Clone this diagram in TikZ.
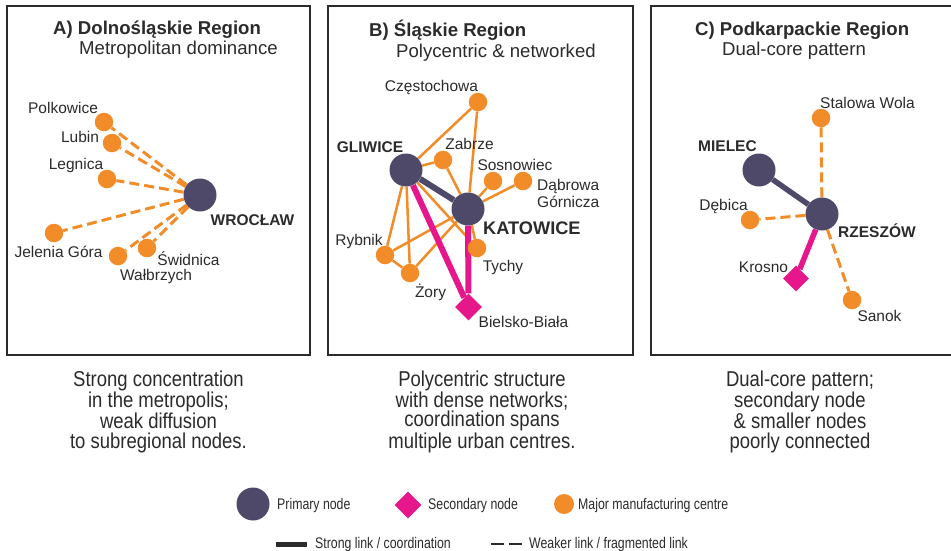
\documentclass[tikz,border=0pt]{standalone}
\usepackage{fontspec}
\setmainfont{Liberation Sans}
\newfontfamily\narrowfont[FakeStretch=0.86]{Liberation Sans}
\newfontfamily\legfont[FakeStretch=0.80]{Liberation Sans}
\usetikzlibrary{shapes.geometric}
\definecolor{prim}{HTML}{4E4968}
\definecolor{orng}{HTML}{F28C28}
\definecolor{mag}{HTML}{E6178B}
\definecolor{txt}{HTML}{2B2B2B}
\pgfdeclarelayer{bg}
\pgfsetlayers{bg,main}
\tikzset{
  primnode/.style={circle, fill=prim, minimum size=33pt, inner sep=0pt},
  mfg/.style={circle, fill=orng, minimum size=18.5pt, inner sep=0pt},
  secnode/.style={diamond, fill=mag, minimum width=27pt, minimum height=27pt, inner sep=0pt},
  weak/.style={draw=orng, line width=3pt, dash pattern=on 10pt off 5pt},
  net/.style={draw=orng, line width=2.5pt},
  strong/.style={draw=prim, line width=6pt},
  seclink/.style={draw=mag, line width=6pt},
  lbl/.style={font=\fontsize{15.5}{18}\selectfont, text=txt, inner sep=0pt, anchor=base},
  blbl/.style={font=\bfseries\fontsize{15.5}{18}\selectfont, text=txt, inner sep=0pt, anchor=base},
  ttl/.style={font=\bfseries\fontsize{18.6}{22}\selectfont, text=txt, inner sep=0pt, anchor=base west},
  subttl/.style={font=\fontsize{18.6}{22}\selectfont, text=txt, inner sep=0pt, anchor=base west},
  captxt/.style={font=\narrowfont\fontsize{21.5}{19.7}\selectfont, text=txt, align=center, inner sep=0pt, anchor=base},
  legtxt/.style={font=\legfont\fontsize{15.4}{18}\selectfont, text=txt, inner sep=0pt, anchor=west},
  panel/.style={draw=txt, line width=2.5pt}
}
\begin{document}
\begin{tikzpicture}[x=1pt,y=-1pt]
\useasboundingbox (0,0) rectangle (951,550);
\begin{pgfonlayer}{bg}
\fill[white] (0,0) rectangle (951,550);
\end{pgfonlayer}

% panels
\draw[panel] (7,6) rectangle (310,355);
\draw[panel] (328,6) rectangle (633,355);
\draw[panel] (651,6) rectangle (960,355);

% ---------- Panel A ----------
\node[ttl] (ta) at (53,34) {A) Dolnośląskie Region};
\node[subttl] (sa) at (79,54) {Metropolitan dominance};
\node[primnode] (wro) at (200,195) {};
\node[mfg] (pol) at (104,122) {};
\node[mfg] (lub) at (112,143) {};
\node[mfg] (leg) at (107,179) {};
\node[mfg] (jel) at (54,233) {};
\node[mfg] (wal) at (118,256) {};
\node[mfg] (swi) at (147,248) {};
\node[lbl] (lpol) at (63,113) {Polkowice};
\node[lbl] (llub) at (80,142) {Lubin};
\node[lbl] (lleg) at (76,169) {Legnica};
\node[lbl] (ljel) at (58.5,257) {Jelenia Góra};
\node[lbl] (lswi) at (188.5,265) {Świdnica};
\node[lbl] (lwal) at (156,280) {Wałbrzych};
\node[blbl] (lwro) at (252.5,225) {WROCŁAW};
\begin{pgfonlayer}{bg}
\draw[weak] (wro) -- (pol);
\draw[weak] (wro) -- (lub);
\draw[weak] (wro) -- (leg);
\draw[weak] (wro) -- (jel);
\draw[weak] (wro) -- (wal);
\draw[weak] (wro) -- (swi);
\end{pgfonlayer}

% ---------- Panel B ----------
\node[ttl] (tb) at (369,36) {B) Śląskie Region};
\node[subttl] (sb) at (396,57) {Polycentric \& networked};
\node[primnode] (gli) at (406,170) {};
\node[primnode] (kat) at (468,209) {};
\node[mfg] (cze) at (478,102) {};
\node[mfg] (zab) at (443,160) {};
\node[mfg] (sos) at (493,181) {};
\node[mfg] (dab) at (523,181) {};
\node[mfg] (tyc) at (477,248) {};
\node[mfg] (ryb) at (385,255) {};
\node[mfg] (zor) at (410,273) {};
\node[secnode] (bie) at (468.5,307) {};
\node[lbl] (lcze) at (431.5,91) {Częstochowa};
\node[blbl] (lgli) at (370,152) {GLIWICE};
\node[lbl] (lzab) at (469.5,149) {Zabrze};
\node[lbl] (lsos) at (515,170) {Sosnowiec};
\node[lbl, anchor=base west] (ldab1) at (537,190) {Dąbrowa};
\node[lbl, anchor=base west] (ldab2) at (537,207) {Górnicza};
\node[font=\bfseries\fontsize{18.2}{21}\selectfont, text=txt, inner sep=0pt, anchor=base west] (lkat) at (483,234) {KATOWICE};
\node[lbl] (lryb) at (359,245) {Rybnik};
\node[lbl] (ltyc) at (503,271) {Tychy};
\node[lbl] (lzor) at (430.5,297) {Żory};
\node[lbl] (lbie) at (523.5,327) {Bielsko-Biała};
\begin{pgfonlayer}{bg}
\draw[net] (gli) -- (cze);
\draw[net] (kat) -- (cze);
\draw[net] (gli) -- (zab);
\draw[net] (zab) -- (kat);
\draw[net] (kat) -- (sos);
\draw[net] (kat) -- (dab);
\draw[net] (gli) -- (ryb);
\draw[net] (gli) -- (zor);
\draw[net] (gli) -- (tyc);
\draw[net] (kat) -- (ryb);
\draw[net] (kat) -- (zor);
\draw[net] (ryb) -- (zor);
\draw[net] (kat) -- (tyc);
\draw[strong] (gli) -- (kat);
\draw[seclink] (gli) -- (bie);
\draw[seclink] (kat) -- (bie);
\end{pgfonlayer}

% ---------- Panel C ----------
\node[ttl] (tc) at (695,35) {C) Podkarpackie Region};
\node[subttl] (sc) at (722,55) {Dual-core pattern};
\node[primnode] (mie) at (759,170) {};
\node[primnode] (rze) at (822,214) {};
\node[mfg] (sta) at (821,118) {};
\node[mfg] (deb) at (750,220) {};
\node[mfg] (san) at (852,300) {};
\node[secnode, minimum width=26pt, minimum height=26pt] (kro) at (796,278.5) {};
\node[lbl, anchor=base west] (lsta) at (820,108) {Stalowa Wola};
\node[blbl, anchor=base west] (lmie) at (698,151) {MIELEC};
\node[lbl] (ldeb) at (723.5,210) {Dębica};
\node[blbl, anchor=base west] (lrze) at (838,237) {RZESZÓW};
\node[lbl] (lkro) at (763.5,272) {Krosno};
\node[lbl] (lsan) at (879.5,321) {Sanok};
\begin{pgfonlayer}{bg}
\draw[weak] (rze) -- (sta);
\draw[weak] (rze) -- (deb);
\draw[weak] (rze) -- (san);
\draw[strong, line width=5.5pt] (mie) -- (rze);
\draw[seclink, line width=5.5pt] (rze) -- (kro);
\end{pgfonlayer}

% ---------- Captions (base = last line) ----------
\node[captxt] (ca) at (158.5,448) {Strong concentration\\in the metropolis;\\weak diffusion\\to subregional nodes.};
\node[captxt] (cb) at (482,448) {Polycentric structure\\with dense networks;\\coordination spans\\multiple urban centres.};
\node[captxt] (cc) at (800,448) {Dual-core pattern;\\secondary node\\\& smaller nodes\\poorly connected};

% ---------- Legend ----------
\node[primnode] (lgp) at (253,504) {};
\node[legtxt] (lgpt) at (277,506) {Primary node};
\node[secnode] (lgs) at (408,505) {};
\node[legtxt] (lgst) at (428,506) {Secondary node};
\node[mfg, minimum size=20pt] (lgm) at (564,504) {};
\node[legtxt] (lgmt) at (578,506) {Major manufacturing centre};
\coordinate (ls1) at (276,544);
\coordinate (ls2) at (307,544);
\draw[draw=txt, line width=5pt] (ls1) -- (ls2);
\node[legtxt] (lgl1) at (315,544.5) {Strong link / coordination};
\coordinate (lw1) at (491,544);
\coordinate (lw2) at (522,544);
\draw[draw=txt, line width=2.5pt, dash pattern=on 13pt off 5pt] (lw1) -- (lw2);
\node[legtxt] (lgl2) at (529,544.5) {Weaker link / fragmented link};
\end{tikzpicture}
\end{document}
